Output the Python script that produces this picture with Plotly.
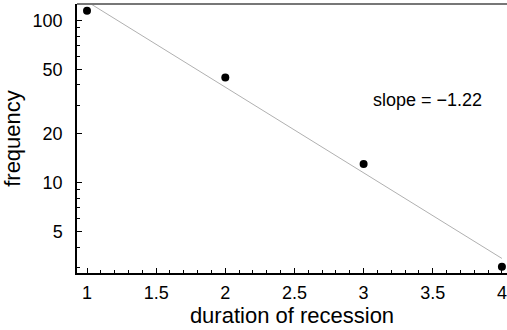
import plotly.graph_objects as go

# observed recessions by duration
duration = [1, 2, 3, 4]
frequency = [115, 44.5, 13.0, 3.02]

# fitted line endpoints (log-linear fit)
fit_x = [1, 4]
fit_y = [131, 3.40]
slope_label = "slope = \u22121.22"

y_major = [5, 10, 20, 50, 100]
y_minor = [3, 4, 6, 7, 8, 9, 30, 40, 60, 70, 80, 90]

font_family = "Liberation Sans, Arial, sans-serif"

fig = go.Figure()
fig.add_trace(
    go.Scatter(
        x=fit_x, y=fit_y, mode="lines",
        line=dict(color="#b0b0b0", width=1), hoverinfo="skip", cliponaxis=True,
    )
)
fig.add_trace(
    go.Scatter(
        x=duration, y=frequency, mode="markers",
        marker=dict(color="black", size=8), cliponaxis=False,
    )
)

fig.add_annotation(
    x=3.46, y=1.511, xref="x", yref="y", text=slope_label, showarrow=False,
    font=dict(size=18, color="black", family=font_family),
)

fig.add_shape(
    type="line", xref="paper", yref="paper", x0=0, x1=1, y0=1, y1=1,
    line=dict(color="#777777", width=2),
)

fig.update_layout(
    width=507,
    height=330,
    margin=dict(l=77, r=0, t=4, b=57),
    plot_bgcolor="white",
    paper_bgcolor="white",
    showlegend=False,
    font=dict(family=font_family, size=18, color="black"),
    xaxis=dict(
        range=[0.9277, 4.0368],
        tickvals=[1, 1.5, 2, 2.5, 3, 3.5, 4],
        ticktext=["1", "1.5", "2", "2.5", "3", "3.5", "4"],
        ticks="inside", ticklen=5, tickcolor="black", tickwidth=1,
        minor=dict(dtick=0.1, tick0=0, ticks="inside", ticklen=3, tickcolor="black"),
        showline=True, linecolor="black", linewidth=1.5,
        showgrid=False, zeroline=False,
        title=dict(text="duration of recession", standoff=4),
        ticklabelstandoff=3,
        automargin=False,
    ),
    yaxis=dict(
        type="log",
        range=[0.4416, 2.102],
        tickvals=y_major,
        ticktext=[str(v) for v in y_major],
        ticks="inside", ticklen=5, tickcolor="black", tickwidth=1,
        minor=dict(tickvals=y_minor, ticks="inside", ticklen=3, tickcolor="black"),
        showline=True, linecolor="black", linewidth=1.5,
        showgrid=False, zeroline=False,
        title=dict(text="frequency", standoff=6),
        ticklabelstandoff=9,
        automargin=False,
    ),
)

fig.write_html(
    "out.html",
    config={"displayModeBar": False},
    post_script="document.body.style.margin = '0';",
)
